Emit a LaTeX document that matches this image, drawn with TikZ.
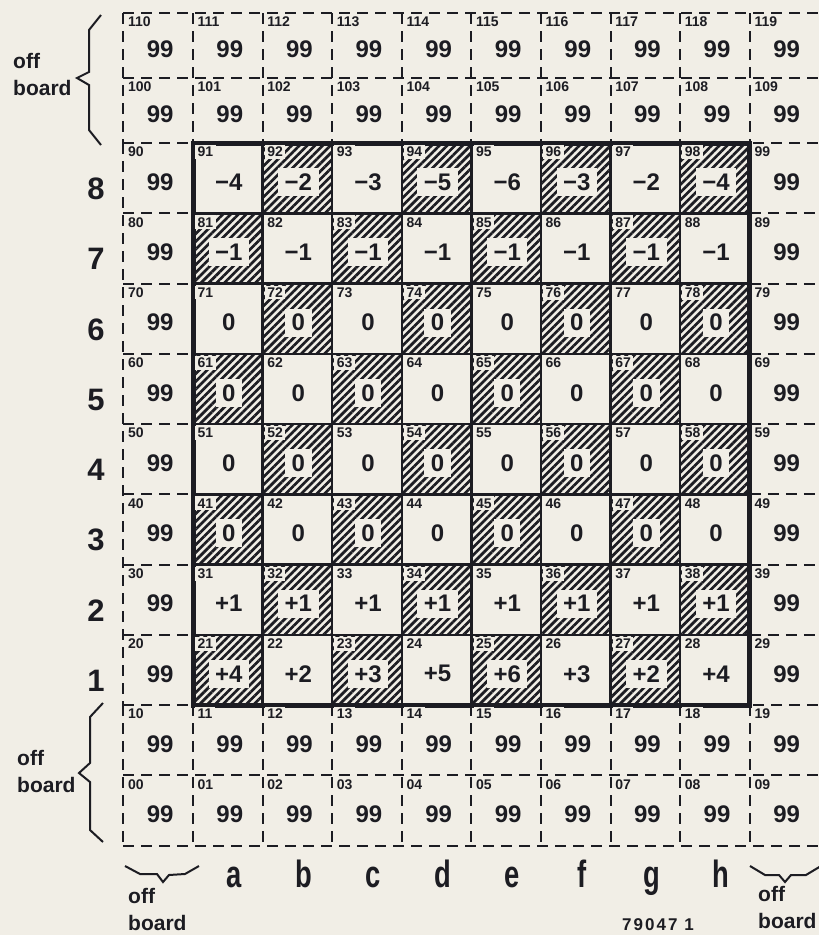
\documentclass[tikz,border=0pt]{standalone}
\usepackage{fontspec}
\setmainfont{Liberation Sans}
\usetikzlibrary{patterns.meta}
\definecolor{paper}{RGB}{241,238,230}
\definecolor{ink}{RGB}{28,28,34}
\newcommand{\fsz}[2]{\fontsize{#1}{#2}\selectfont\bfseries}
\def\xo{123.4}
\def\cw{69.6}

\begin{document}
\begin{tikzpicture}[
  x=1pt, y=-1pt,
  gridline/.style={ink, line width=2pt, dash pattern=on 11pt off 7pt},
  boardline/.style={ink, line width=2.5pt},
  hatchsq/.style={pattern={Lines[angle=45, distance=5.5pt, line width=2.7pt]}, pattern color=ink},
  idx/.style={anchor=north west, fill=paper, inner xsep=2.5pt, inner ysep=2pt, text=ink, font=\fsz{14}{14}},
  val/.style={fill=paper, inner xsep=6.5pt, minimum height=28pt, text=ink, font=\fsz{24}{24}},
  rank/.style={text=ink, font=\fsz{31}{31}},
  file/.style={anchor=base, text=ink, font=\fsz{38}{38}, xscale=0.72},
  offtxt/.style={anchor=north west, inner sep=0pt, align=left, text=ink, font=\fsz{21}{27}},
  bracket/.style={ink, line width=2pt, line join=miter}
]
  \useasboundingbox (0,0) rectangle (819,935);
  \fill[paper] (0,0) rectangle (819,935);

  % dashed off-board cells
  \foreach \yy in {13,78,143,705,775.25,845.5}
    \draw[gridline] (\xo,\yy) -- (819.6,\yy);
  \foreach \k in {1,...,7}
    \draw[gridline] (\xo,{143+70.25*\k}) -- (193,{143+70.25*\k})
                    (749.8,{143+70.25*\k}) -- (819.6,{143+70.25*\k});
  \foreach \c in {0,...,9}
    \draw[gridline] ({\xo+\cw*\c},13) -- ++(0,130)
                    ({\xo+\cw*\c},705) -- ++(0,140.5);
  \draw[gridline] (\xo,143) -- (\xo,705);

  % hatched squares
  \foreach \r in {2,...,9}
    \foreach \c in {1,...,8} {
      \pgfmathtruncatemacro\odd{mod(\r+\c,2)}
      \ifnum\odd=1
        \fill[hatchsq] ({\xo+\cw*\c},{143+70.25*(9-\r)}) rectangle ++(\cw,70.25);
      \fi
    }

  % board
  \foreach \c in {2,...,8}
    \draw[boardline] ({\xo+\cw*\c},143) -- ++(0,562);
  \foreach \k in {1,...,7}
    \draw[boardline] (193,{143+70.25*\k}) -- ++(556.8,0);
  \draw[ink, line width=5pt] (193,143) rectangle (749.8,705);

  % square numbers and off-board values
  \foreach \r in {0,...,11}
    \foreach \c in {0,...,9} {
      \pgfmathsetmacro\yt{\r>9 ? 143-65*(\r-9) : 143+70.25*(9-\r)}
      \pgfmathsetmacro\yh{\r>9 ? 65 : 70.25}
      \pgfmathtruncatemacro\n{10*\r+\c}
      \pgfmathtruncatemacro\off{(\r<2)||(\r>9)||(\c==0)||(\c==9)}
      \node[idx] (i\n) at ({\xo+\cw*\c+2},{\yt+2}) {\ifnum\r=0 0\fi\n};
      \ifnum\off=1
        \node[val] (v\n) at ({\xo+\cw*\c+\cw/2+2},{\yt+\yh/2+4}) {99};
      \fi
    }

  % piece values
  \foreach \r/\vals in {9/{−4,−2,−3,−5,−6,−3,−2,−4},
                        8/{−1,−1,−1,−1,−1,−1,−1,−1},
                        7/{0,0,0,0,0,0,0,0}, 6/{0,0,0,0,0,0,0,0},
                        5/{0,0,0,0,0,0,0,0}, 4/{0,0,0,0,0,0,0,0},
                        3/{+1,+1,+1,+1,+1,+1,+1,+1},
                        2/{+4,+2,+3,+5,+6,+3,+2,+4}}
    \foreach \v [count=\c] in \vals
      \node[val] (v\r\c) at ({\xo+\cw*\c+\cw/2+1},{143+70.25*(9-\r)+39}) {\v};

  % ranks and files
  \foreach \r [evaluate=\r as \k using int(\r-1)] in {2,...,9}
    \node[rank] (rank\k) at (96,{143+70.25*(9-\r)+46}) {\k};
  \foreach \f [count=\c] in {a,...,h}
    \node[file] (file\f) at ({\xo+\cw*\c+\cw/2+6},887) {\f};

  % braces
  \draw[bracket] (101,15) -- (89,30) -- (89,72) -- (77,78) -- (89,85) -- (89,130) -- (101,145);
  \draw[bracket] (103,703) -- (90,717) -- (90,763) -- (79,773) -- (90,782) -- (90,830) -- (103,842);
  \draw[bracket] (125,866) -- (140,874) -- (157,874) -- (163,882) -- (169,875) -- (185,874) -- (199,866);
  \draw[bracket] (750,866) -- (765,875) -- (779,875) -- (785,882) -- (791,875) -- (806,875) -- (821,866);

  \node[offtxt] (offtop) at (13,53) {off\\board};
  \node[offtxt] (offbot) at (17,750) {off\\board};
  \node[offtxt] (offleft) at (128,888) {off\\board};
  \node[offtxt] (offright) at (758,886) {off\\board};
  \node[anchor=north west, inner sep=0pt, text=ink, font=\fsz{17}{17}\addfontfeatures{LetterSpace=12}] (fig) at (622,918) {79047 1};
\end{tikzpicture}
\end{document}
